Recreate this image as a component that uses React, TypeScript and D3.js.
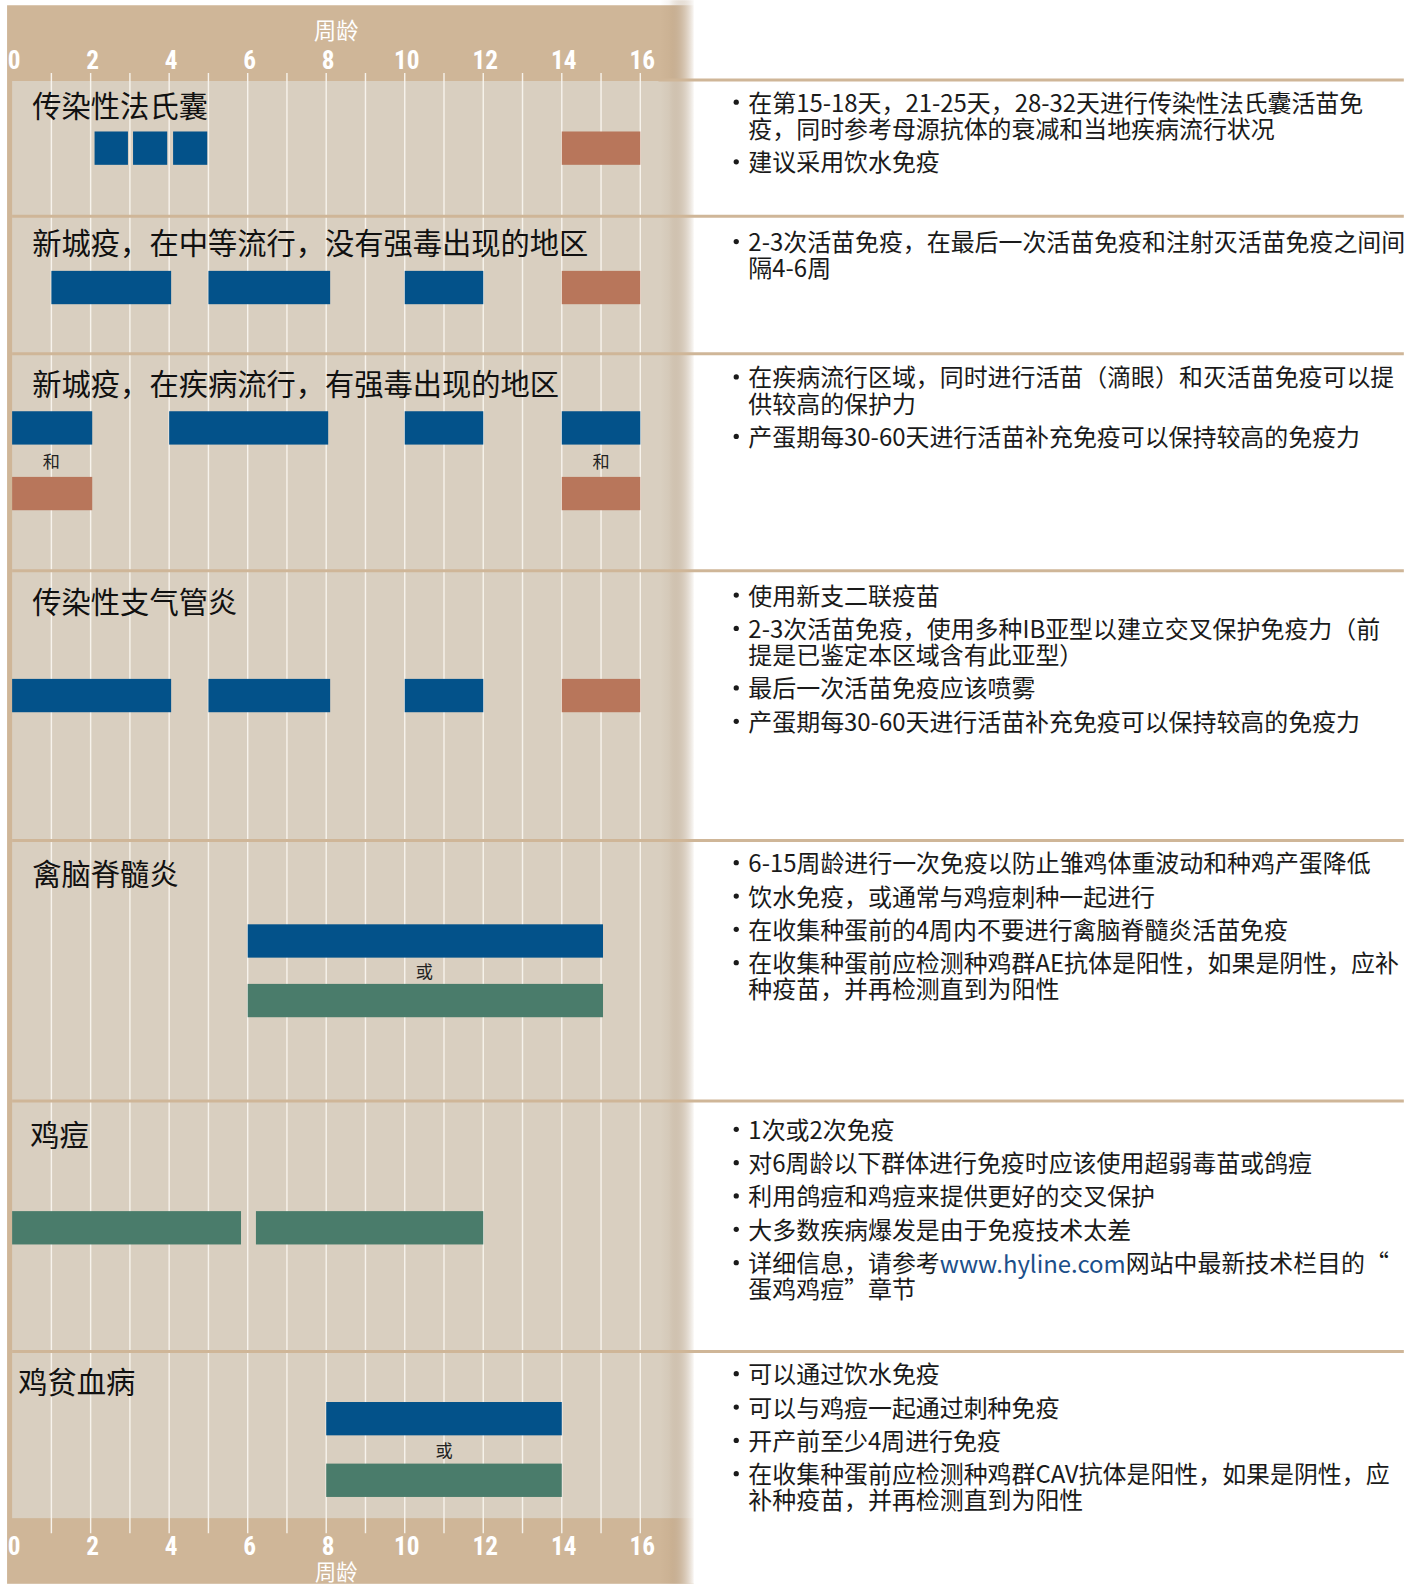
import React from 'react';
import * as d3 from 'd3';

// weeks shown on the axis
const weekTicks = [0, 2, 4, 6, 8, 10, 12, 14, 16];
const gridWeeks = [1, 2, 3, 4, 5, 6, 7, 8, 9, 10, 11, 12, 13, 14, 15, 16];

const diseases = [
    '传染性法氏囊',
    '新城疫，在中等流行，没有强毒出现的地区',
    '新城疫，在疾病流行，有强毒出现的地区',
    '传染性支气管炎',
    '禽脑脊髓炎',
    '鸡痘',
    '鸡贫血病',
];

// vaccination windows: row, lane, start week, end week, vaccine kind
const windows = [
    { row: 0, lane: 0, start: 2.1, end: 2.95, kind: 'live' },
    { row: 0, lane: 0, start: 3.08, end: 3.95, kind: 'live' },
    { row: 0, lane: 0, start: 4.1, end: 4.97, kind: 'live' },
    { row: 0, lane: 0, start: 14, end: 16, kind: 'killed' },
    { row: 1, lane: 0, start: 1, end: 4.05, kind: 'live' },
    { row: 1, lane: 0, start: 5, end: 8.1, kind: 'live' },
    { row: 1, lane: 0, start: 10, end: 12, kind: 'live' },
    { row: 1, lane: 0, start: 14, end: 16, kind: 'killed' },
    { row: 2, lane: 0, start: 0, end: 2.04, kind: 'live' },
    { row: 2, lane: 0, start: 4, end: 8.05, kind: 'live' },
    { row: 2, lane: 0, start: 10, end: 12, kind: 'live' },
    { row: 2, lane: 0, start: 14, end: 16, kind: 'live' },
    { row: 2, lane: 1, start: 0, end: 2.04, kind: 'killed' },
    { row: 2, lane: 1, start: 14, end: 16, kind: 'killed' },
    { row: 3, lane: 0, start: 0, end: 4.05, kind: 'live' },
    { row: 3, lane: 0, start: 5, end: 8.1, kind: 'live' },
    { row: 3, lane: 0, start: 10, end: 12, kind: 'live' },
    { row: 3, lane: 0, start: 14, end: 16, kind: 'killed' },
    { row: 4, lane: 0, start: 6, end: 15.05, kind: 'live' },
    { row: 4, lane: 1, start: 6, end: 15.05, kind: 'wing' },
    { row: 5, lane: 0, start: 0, end: 5.83, kind: 'wing' },
    { row: 5, lane: 0, start: 6.21, end: 12, kind: 'wing' },
    { row: 6, lane: 0, start: 8, end: 14, kind: 'live' },
    { row: 6, lane: 1, start: 8, end: 14, kind: 'wing' },
];

// words set between two lanes
const joiners = [
    { row: 2, week: 1, text: '和' },
    { row: 2, week: 15, text: '和' },
    { row: 4, week: 10.5, text: '或' },
    { row: 6, week: 11, text: '或' },
];

const notes = [
    [
        ['在第15-18天，21-25天，28-32天进行传染性法氏囊活苗免', '疫，同时参考母源抗体的衰减和当地疾病流行状况'],
        ['建议采用饮水免疫'],
    ],
    [
        ['2-3次活苗免疫，在最后一次活苗免疫和注射灭活苗免疫之间间', '隔4-6周'],
    ],
    [
        ['在疾病流行区域，同时进行活苗（滴眼）和灭活苗免疫可以提', '供较高的保护力'],
        ['产蛋期每30-60天进行活苗补充免疫可以保持较高的免疫力'],
    ],
    [
        ['使用新支二联疫苗'],
        ['2-3次活苗免疫，使用多种IB亚型以建立交叉保护免疫力（前', '提是已鉴定本区域含有此亚型）'],
        ['最后一次活苗免疫应该喷雾'],
        ['产蛋期每30-60天进行活苗补充免疫可以保持较高的免疫力'],
    ],
    [
        ['6-15周龄进行一次免疫以防止雏鸡体重波动和种鸡产蛋降低'],
        ['饮水免疫，或通常与鸡痘刺种一起进行'],
        ['在收集种蛋前的4周内不要进行禽脑脊髓炎活苗免疫'],
        ['在收集种蛋前应检测种鸡群AE抗体是阳性，如果是阴性，应补', '种疫苗，并再检测直到为阳性'],
    ],
    [
        ['1次或2次免疫'],
        ['对6周龄以下群体进行免疫时应该使用超弱毒苗或鸽痘'],
        ['利用鸽痘和鸡痘来提供更好的交叉保护'],
        ['大多数疾病爆发是由于免疫技术太差'],
        ['详细信息，请参考www.hyline.com网站中最新技术栏目的“', '蛋鸡鸡痘”章节'],
    ],
    [
        ['可以通过饮水免疫'],
        ['可以与鸡痘一起通过刺种免疫'],
        ['开产前至少4周进行免疫'],
        ['在收集种蛋前应检测种鸡群CAV抗体是阳性，如果是阴性，应', '补种疫苗，并再检测直到为阳性'],
    ],
];

const link = 'www.hyline.com';

// layout
const W = 1407;
const H = 1568;
const sepY = [79, 214, 350, 565, 832, 1090, 1338];
const titleY = [103, 238, 378, 594, 863, 1122, 1366];
const titleX = [32, 32, 32, 32, 32, 30, 18];
const laneY = [[130], [268], [407, 472], [672], [915, 974], [1199], [1388, 1449]];
const noteY = [100, 238, 372, 588, 853, 1117, 1359];
const barH = 33;

const colors = { live: '#03528a', killed: '#b8765b', wing: '#4a7c6b' };
const tan = '#cfb698';
const panel = '#d9cfc0';
const cjk = '"Noto Sans CJK SC", "Noto Sans", sans-serif';
const narrow = '"Liberation Sans Narrow", "Roboto Condensed", "Arial Narrow", "Liberation Sans", sans-serif';

const x = d3.scaleLinear().domain([0, 16]).range([12, 634]);

const App = () => {
    const noteLines = [];
    notes.forEach((bullets, r) => {
        let y = noteY[r];
        bullets.forEach((lines, b) => {
            if (b > 0) y += 33;
            lines.forEach((line, i) => {
                if (i > 0) y += 26;
                noteLines.push({ y, line, bullet: i === 0 });
            });
        });
    });

    const renderLine = (line) => {
        const k = line.indexOf(link);
        if (k < 0) return line;
        return (
            <>
                {line.slice(0, k)}
                <tspan fill="#1c4f8a">{link}</tspan>
                {line.slice(k + link.length)}
            </>
        );
    };

    return (
        <svg
            width={1421}
            height={1584}
            viewBox={`0 0 ${W} ${H}`}
            style={{ position: 'absolute', left: 0, top: 0, background: '#fff' }}
        >
            <defs>
                <linearGradient id="fade" x1="0" x2="1" y1="0" y2="0">
                    <stop offset="0" stopColor="#9c7f5e" stopOpacity="0" />
                    <stop offset="0.25" stopColor="#a58868" stopOpacity="0.08" />
                    <stop offset="1" stopColor="#ffffff" stopOpacity="1" />
                </linearGradient>
            </defs>

            {/* frame and light panel */}
            <rect x={7} y={5} width={680} height={H - 5} fill={tan} />
            <rect x={12} y={80} width={675} height={1423} fill={panel} />

            {/* week grid */}
            {gridWeeks.map(w => (
                <line key={w} x1={x(w)} x2={x(w)} y1={72} y2={1518} stroke="#f7f3ec" strokeWidth={1.4} />
            ))}

            {/* vaccination bars */}
            {windows.map((d, i) => (
                <rect
                    key={i}
                    x={x(d.start)}
                    y={laneY[d.row][d.lane]}
                    width={x(d.end) - x(d.start)}
                    height={barH}
                    fill={colors[d.kind]}
                />
            ))}

            {joiners.map((d, i) => (
                <text
                    key={i}
                    x={x(d.week)}
                    y={(laneY[d.row][0] + barH + laneY[d.row][1]) / 2}
                    textAnchor="middle"
                    dominantBaseline="central"
                    fontFamily={cjk}
                    fontSize={17}
                    fill="#222"
                >
                    {d.text}
                </text>
            ))}

            {diseases.map((t, i) => (
                <text
                    key={t}
                    x={titleX[i]}
                    y={titleY[i]}
                    dominantBaseline="central"
                    fontFamily={cjk}
                    fontSize={29}
                    fontWeight={400}
                    fill="#111"
                >
                    {t}
                </text>
            ))}

            {/* fade at the right edge of the chart */}
            <rect x={654} y={0} width={34} height={H} fill="url(#fade)" />
            <rect x={687} y={0} width={W - 687} height={H} fill="#fff" />

            {/* row separators */}
            {sepY.map((y, i) => (
                <line key={y} x1={i === 0 ? 652 : 12} x2={1390} y1={y} y2={y} stroke={tan} strokeWidth={3} />
            ))}

            {/* week axis, top and bottom */}
            {weekTicks.map(t => (
                <g key={t}>
                    <text x={x(t) + 2} y={60} textAnchor="middle" dominantBaseline="central"
                        fontFamily={narrow} fontWeight="bold" fontSize={25} fill="#fff">{t}</text>
                    <text x={x(t) + 2} y={1531} textAnchor="middle" dominantBaseline="central"
                        fontFamily={narrow} fontWeight="bold" fontSize={25} fill="#fff">{t}</text>
                </g>
            ))}
            <text x={333} y={29} textAnchor="middle" dominantBaseline="central" fontFamily={cjk} fontSize={22} fill="#fff">周龄</text>
            <text x={333} y={1555} textAnchor="middle" dominantBaseline="central" fontFamily={cjk} fontSize={21} fill="#fff">周龄</text>

            {/* notes on the right */}
            {noteLines.map((d, i) => (
                <g key={i}>
                    {d.bullet && <circle cx={729} cy={d.y + 1} r={2.6} fill="#1a1a1a" />}
                    <text x={741} y={d.y} dominantBaseline="central" fontFamily={cjk} fontSize={23.7} fill="#1a1a1a">
                        {renderLine(d.line)}
                    </text>
                </g>
            ))}
        </svg>
    );
};

export default App;
